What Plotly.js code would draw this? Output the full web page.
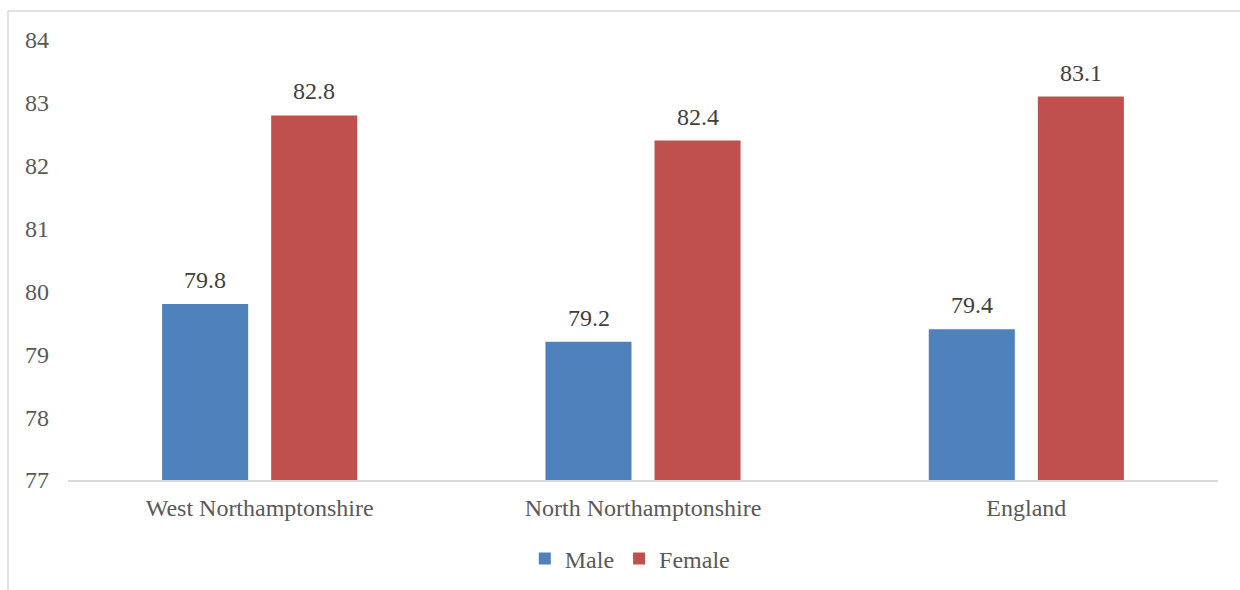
<!DOCTYPE html>
<html><head><meta charset="utf-8">
<script src="https://cdn.plot.ly/plotly-3.0.1.min.js"></script>
<style>html,body{margin:0;padding:0;background:#fff;}#chart{width:1240px;height:590px;}</style>
</head><body><div id="chart"></div>
<script>
const categories = ["West Northamptonshire", "North Northamptonshire", "England"];
const maleValues = [79.8, 79.2, 79.4];
const femaleValues = [82.8, 82.4, 83.1];
const seriesNames = ["Male", "Female"];
const yTicks = [77, 78, 79, 80, 81, 82, 83, 84];

const FAM = "'Liberation Serif', 'Times New Roman', serif";
const font = {family: FAM, size: 24, color: "#595959"};
const textFont = {family: FAM, size: 24, color: "#404040"};

const traces = [
  {type: "bar", name: seriesNames[0], x: categories, y: maleValues,
   marker: {color: "#4F81BD"}, cliponaxis: false, hoverinfo: "x+y"},
  {type: "bar", name: seriesNames[1], x: categories, y: femaleValues,
   marker: {color: "#C0504D"}, cliponaxis: false, hoverinfo: "x+y"}
];

// value labels, placed with the data coordinates of each bar
const annotations = [];
[[maleValues, -54.5], [femaleValues, 54.5]].forEach(([vals, dx]) => {
  vals.forEach((v, i) => {
    annotations.push({x: categories[i], y: v, xref: "x", yref: "y", text: v.toFixed(1),
      showarrow: false, xshift: dx, yshift: 24, yanchor: "middle", font: textFont});
  });
});

const layout = {
  width: 1240, height: 590,
  margin: {l: 68, r: 22, t: 40, b: 110, autoexpand: false},
  paper_bgcolor: "#fff", plot_bgcolor: "#fff",
  font: font,
  barmode: "group", bargap: 0.431, bargroupgap: 0.211,
  showlegend: true,
  legend: {orientation: "h", x: 0.4885, xanchor: "center", y: -0.1795, yanchor: "middle",
           font: font, traceorder: "normal", itemwidth: 30},
  xaxis: {type: "category", showgrid: false, showline: true, linecolor: "#d9d9d9", linewidth: 1.5,
          ticks: "", tickfont: font, ticklabelstandoff: 6, automargin: false},
  yaxis: {range: [77, 84], tickvals: yTicks, ticktext: yTicks.map(String), showgrid: false,
          zeroline: false, showline: false, ticks: "", tickfont: font, ticklabelstandoff: 18,
          automargin: false},
  annotations: annotations,
  shapes: [
    {type: "line", xref: "paper", yref: "paper", x0: -0.0522, x1: 1.03, y0: 1.066, y1: 1.066,
     line: {color: "#d9d9d9", width: 1.5}},
    {type: "line", xref: "paper", yref: "paper", x0: -0.0522, x1: -0.0522, y0: 1.066, y1: -0.3,
     line: {color: "#d9d9d9", width: 1.5}}
  ]
};

Plotly.newPlot("chart", traces, layout, {displayModeBar: false, staticPlot: true});
</script></body></html>
